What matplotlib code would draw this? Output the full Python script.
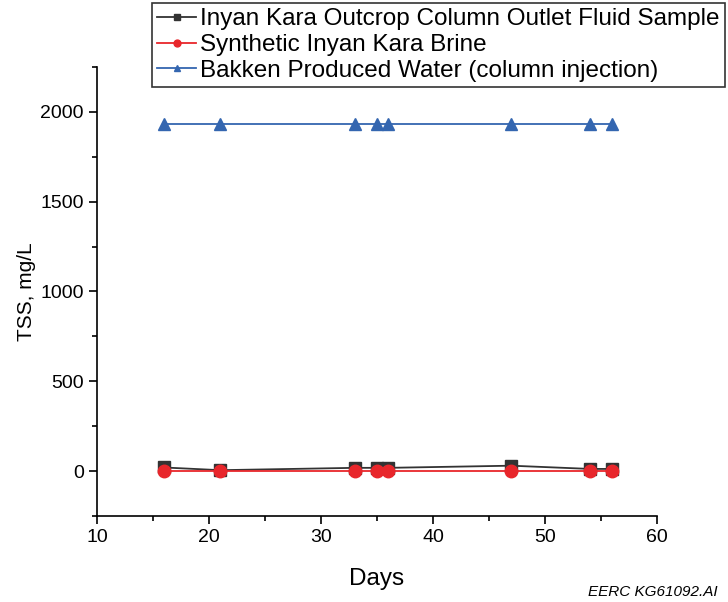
import matplotlib.pyplot as plt
from matplotlib.ticker import MultipleLocator

plt.rcParams['font.family'] = ['Liberation Sans', 'DejaVu Sans']

# TSS over time for the column test
days = [16, 21, 33, 35, 36, 47, 54, 56]
outlet = [20, 5, 18, 18, 18, 30, 12, 12]
synthetic = [0, 0, 0, 0, 0, 0, 0, 0]
bakken = [1933, 1933, 1933, 1933, 1933, 1933, 1933, 1933]

fig = plt.figure(figsize=(7.28, 6.02), dpi=100)
ax = fig.add_axes([0.1332, 0.1429, 0.7693, 0.7458])

ax.plot(days, outlet, color='#333333', marker='s', markersize=8, lw=1.3,
        label='Inyan Kara Outcrop Column Outlet Fluid Sample')
ax.plot(days, synthetic, color='#e8262b', marker='o', markersize=9, lw=1.3,
        label='Synthetic Inyan Kara Brine')
ax.plot(days, bakken, color='#3466b0', marker='^', markersize=9, lw=1.3,
        label='Bakken Produced Water (column injection)')

ax.set_xlim(10, 60)
ax.set_ylim(-250, 2250)
ax.xaxis.set_major_locator(MultipleLocator(10))
ax.xaxis.set_minor_locator(MultipleLocator(5))
ax.yaxis.set_major_locator(MultipleLocator(500))
ax.yaxis.set_minor_locator(MultipleLocator(250))
ax.tick_params(which='major', length=6, width=1.2, labelsize=14, direction='out')
ax.tick_params(which='minor', length=3.5, width=1.2, direction='out')
ax.spines['top'].set_visible(False)
ax.spines['right'].set_visible(False)
for s in ['left', 'bottom']:
    ax.spines[s].set_linewidth(1.2)

ax.set_xlabel('Days', fontsize=17.5, labelpad=16)
ax.set_ylabel('TSS, mg/L', fontsize=15, labelpad=3)

leg = fig.legend(loc='upper left', bbox_to_anchor=(152 / 728, 1 - 3 / 602),
                 fontsize=17.5, frameon=True, fancybox=False, handlelength=1.6,
                 handletextpad=0.15, labelspacing=0.15, borderpad=0.22,
                 borderaxespad=0, markerscale=0.55)
leg.get_frame().set_edgecolor('black')
leg.get_frame().set_linewidth(1.2)

fig.text(718 / 728, 1 - 592 / 602, 'EERC KG61092.AI', fontsize=11,
         style='italic', ha='right', va='center')

fig.savefig('out.png', dpi=100)
